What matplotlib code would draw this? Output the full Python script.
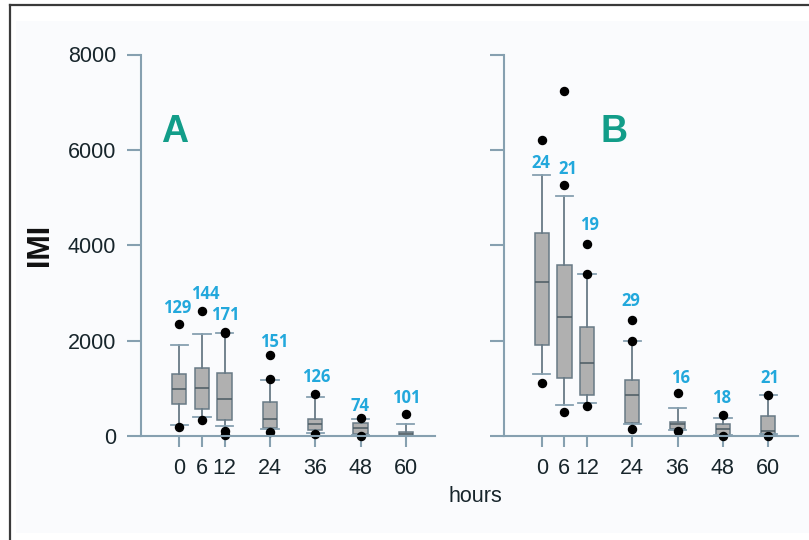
import matplotlib
matplotlib.use("Agg")
import matplotlib.pyplot as plt
from matplotlib.patches import Rectangle
from matplotlib.lines import Line2D

# ---------------- data ----------------
hours = [0, 6, 12, 24, 36, 48, 60]
tick_labels = ["0", "6", "12", "24", "36", "48", "60"]

# panel A
a_q1 = [665, 566, 336, 161, 126, 42, 6]
a_med = [986, 1007, 770, 350, 245, 161, 48]
a_q3 = [1294, 1420, 1315, 719, 350, 279, 90]
a_wlo = [231, 390, 210, 140, 69, 21, 0]
a_whi = [1908, 2139, 2154, 1174, 812, 356, 252]
a_fliers = [[2342, 182], [2621, 336], [2190, 2150, 111, 21], [1699, 1190, 78],
            [881, 48], [371, 0], [455]]
a_n = [129, 144, 171, 151, 126, 74, 101]

# panel B
b_q1 = [1908, 1223, 860, 279, 147, 21, 42]
b_med = [3236, 2489, 1537, 860, 245, 140, 105]
b_q3 = [4251, 3586, 2279, 1174, 300, 252, 419]
b_wlo = [1294, 650, 698, 245, 126, 21, 42]
b_whi = [5473, 5033, 3397, 1992, 581, 371, 860]
b_fliers = [[6207, 1105], [7235, 5263, 510], [4020, 3400, 629], [2433, 2000, 140],
            [895, 111], [440, 0], [860, 0]]
b_n = [24, 21, 19, 29, 16, 18, 21]

# annotation placement for the n labels (hours, IMI units)
a_lab_x = [-0.5, 6.9, 12.1, 25.1, 36.2, 47.9, 60.0]
a_lab_y = [2684, 2978, 2544, 1961, 1227, 633, 790]
b_lab_x = [-0.2, 7.05, 12.8, 23.6, 36.7, 47.6, 60.5]
b_lab_y = [5735, 5589, 4425, 2835, 1216, 790, 1216]

# ---------------- style ----------------
W, H = 809, 540
axis_col = "#86a0b0"
box_face = "#b0b0b0"
box_edge = "#687a86"
med_col = "#4b5a63"
n_col = "#22a8dc"
letter_col = "#129d89"
tick_font = "Liberation Sans"

fig = plt.figure(figsize=(W / 100, H / 100), dpi=100, facecolor="white")

# light page background + frame lines
bg = Rectangle((16 / W, 1 - 533 / H), 1 - 16 / W, (533 - 21) / H,
               transform=fig.transFigure, facecolor="#fafbfd",
               edgecolor="none", zorder=-5)
fig.patches.append(bg)
fig.lines.append(Line2D([10 / W, 10 / W], [0, 1 - 5 / H], transform=fig.transFigure,
                        color="#3a3a3a", lw=1.6, zorder=-4))
fig.lines.append(Line2D([10 / W, 1], [1 - 5 / H, 1 - 5 / H], transform=fig.transFigure,
                        color="#3a3a3a", lw=1.6, zorder=-4))

px_per_h = 3.775
xlo, xhi = -10.1, 67.8
ax_w = (xhi - xlo) * px_per_h
y0_px, y8_px = 436.0, 54.5
ax_bottom = 1 - y0_px / H
ax_height = (y0_px - y8_px) / H


def make_panel(left_px, q1, med, q3, wlo, whi, fliers, n, lab_x, lab_y, letter,
               letter_pos, show_ylabels):
    ax = fig.add_axes([left_px / W, ax_bottom, ax_w / W, ax_height])
    ax.patch.set_alpha(0)
    ax.set_zorder(2)
    stats = []
    for i in range(len(hours)):
        stats.append(dict(med=med[i], q1=q1[i], q3=q3[i], whislo=wlo[i],
                          whishi=whi[i], fliers=fliers[i]))
    ax.bxp(stats, positions=hours, widths=3.8, capwidths=4.6, patch_artist=True,
           manage_ticks=False,
           boxprops=dict(facecolor=box_face, edgecolor=box_edge, linewidth=1.1),
           medianprops=dict(color=med_col, linewidth=1.1),
           whiskerprops=dict(color=box_edge, linewidth=1.3),
           capprops=dict(color=axis_col, linewidth=1.3),
           flierprops=dict(marker="o", markerfacecolor="black",
                           markeredgecolor="black", markersize=5.8))
    for art in ax.lines + ax.patches:
        art.set_clip_on(False)
    ax.set_xlim(xlo, xhi)
    ax.set_ylim(0, 8000)
    for s in ["top", "right"]:
        ax.spines[s].set_visible(False)
    for s in ["left", "bottom"]:
        ax.spines[s].set_color(axis_col)
        ax.spines[s].set_linewidth(1.5)
    ax.set_yticks([0, 2000, 4000, 6000, 8000])
    if show_ylabels:
        ax.set_yticklabels(["0", "2000", "4000", "6000", "8000"])
    else:
        ax.set_yticklabels([])
    ax.set_xticks(hours)
    ax.set_xticklabels(tick_labels)
    ax.tick_params(axis="y", direction="out", length=10, width=1.5, color=axis_col,
                   pad=8, labelsize=15.5, labelcolor="#17252b")
    ax.tick_params(axis="x", direction="out", length=8, width=1.5, color=axis_col,
                   pad=8, labelsize=15.5, labelcolor="#17252b")
    for lab in ax.get_xticklabels() + ax.get_yticklabels():
        lab.set_fontfamily(tick_font)
    for i in range(len(hours)):
        ax.text(lab_x[i], lab_y[i], str(n[i]), ha="center", va="center",
                color=n_col, fontsize=12, fontweight="bold", family="Open Sans",
                clip_on=False)
    ax.text(letter_pos[0], letter_pos[1], letter, ha="center", va="center",
            color=letter_col, fontsize=27, fontweight="bold", family="Liberation Sans")
    return ax


axA = make_panel(179.3 + xlo * px_per_h, a_q1, a_med, a_q3, a_wlo, a_whi, a_fliers,
                 a_n, a_lab_x, a_lab_y, "A", (-1.2, 6380), True)
axB = make_panel(541.7 + xlo * px_per_h, b_q1, b_med, b_q3, b_wlo, b_whi, b_fliers,
                 b_n, b_lab_x, b_lab_y, "B", (19.2, 6380), False)

fig.text(40 / W, 1 - 245 / H, "IMI", rotation=90, ha="center", va="center",
         fontsize=22, fontweight="bold", family="Liberation Sans", color="#111111")
fig.text(475 / W, 1 - 496 / H, "hours", ha="center", va="center",
         fontsize=15.5, family="Liberation Sans", color="#17252b")

fig.savefig("out.png", dpi=100, facecolor=fig.get_facecolor())
